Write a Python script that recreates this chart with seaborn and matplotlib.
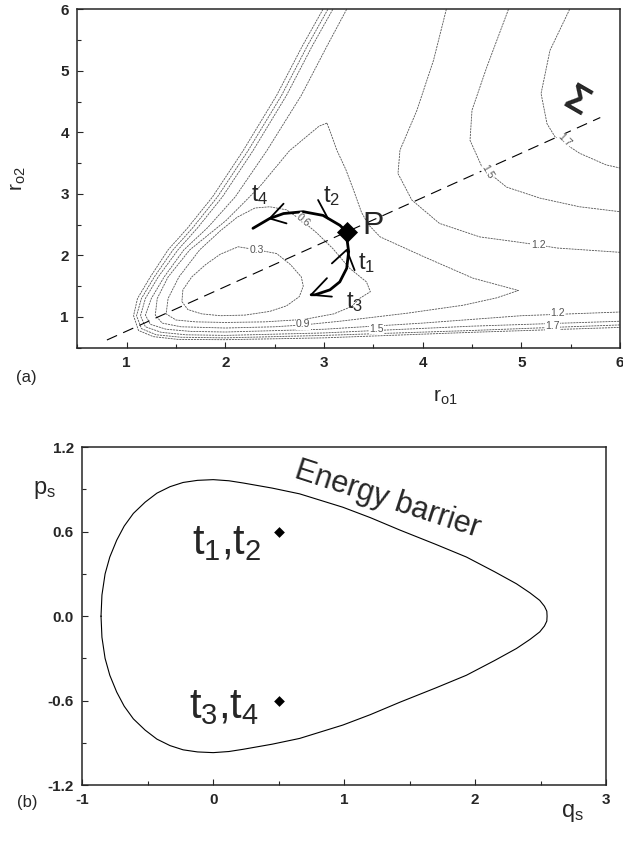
import matplotlib
matplotlib.use("Agg")
import matplotlib.pyplot as plt
from matplotlib.ticker import FixedLocator, MultipleLocator
import seaborn as sns

sns.set_style("ticks")
plt.rcParams["font.family"] = ["Liberation Sans", "DejaVu Sans"]
plt.rcParams["mathtext.fontset"] = "custom"
plt.rcParams["mathtext.rm"] = "Liberation Sans"
plt.rcParams["mathtext.it"] = "Liberation Sans:italic"
plt.rcParams["mathtext.bf"] = "Liberation Sans:bold"
plt.rcParams["axes.unicode_minus"] = False

### (a) potential energy contours (r_o1, r_o2) ###

# 0.3 contour (inner loop)
c03_x = [2.32, 2.13, 1.95, 1.80, 1.66, 1.57, 1.56, 1.62, 1.76, 1.95, 2.20, 2.45, 2.62, 2.75, 2.79, 2.77, 2.66, 2.52, 2.32]
c03_y = [2.09, 2.14, 2.02, 1.85, 1.65, 1.44, 1.25, 1.12, 1.05, 1.02, 1.03, 1.09, 1.18, 1.33, 1.50, 1.65, 1.85, 2.03, 2.09]
# 0.6 contour
c06_x = [3.36, 3.47, 3.43, 3.26, 3.09, 2.93, 2.79, 2.62, 2.45, 2.30, 2.12, 1.95, 1.74, 1.53, 1.42, 1.40, 1.50, 1.70, 2.00, 2.40, 2.80, 3.10, 3.28, 3.36]
c06_y = [1.30, 1.41, 1.57, 1.79, 2.11, 2.36, 2.55, 2.74, 2.79, 2.77, 2.62, 2.40, 2.09, 1.65, 1.30, 1.05, 0.95, 0.92, 0.91, 0.92, 0.96, 1.05, 1.17, 1.30]
# 0.9 contour (peak towards top, tip towards right)
c09_x = [3.03, 2.95, 2.65, 2.35, 2.01, 1.64, 1.42, 1.31, 1.29, 1.36, 1.55, 2.00, 2.50, 2.79, 3.16, 3.84, 4.41, 4.75, 4.97,
         4.51, 4.01, 3.57, 3.45, 3.38, 3.30, 3.22, 3.13, 3.07, 3.03]
c09_y = [4.15, 4.10, 3.70, 3.12, 2.57, 2.09, 1.65, 1.30, 1.03, 0.90, 0.84, 0.82, 0.84, 0.87, 0.93, 1.06, 1.19, 1.31, 1.43,
         1.63, 1.98, 2.30, 2.50, 2.70, 3.06, 3.40, 3.71, 3.98, 4.15]
# repulsive wall contours (1.2, 1.5, 1.7 and the outermost one)
w12_x = [3.23, 3.03, 2.77, 2.42, 2.10, 1.82, 1.58, 1.38, 1.25, 1.19, 1.24, 1.40, 1.65, 2.00, 3.00, 4.00, 5.00, 6.00]
w12_y = [6.00, 5.40, 4.60, 3.70, 2.95, 2.45, 2.09, 1.65, 1.30, 1.03, 0.88, 0.80, 0.765, 0.755, 0.80, 0.90, 1.02, 1.08]
w15_x = [3.09, 2.88, 2.62, 2.28, 1.97, 1.72, 1.52, 1.32, 1.19, 1.14, 1.19, 1.35, 1.60, 2.00, 3.00, 3.53, 4.50, 6.00]
w15_y = [6.00, 5.40, 4.60, 3.70, 2.95, 2.45, 2.09, 1.65, 1.30, 1.02, 0.84, 0.75, 0.71, 0.70, 0.74, 0.78, 0.85, 0.93]
w17_x = [3.04, 2.83, 2.57, 2.23, 1.92, 1.67, 1.47, 1.28, 1.15, 1.10, 1.15, 1.30, 1.55, 2.00, 3.00, 4.50, 5.32, 6.00]
w17_y = [6.00, 5.40, 4.60, 3.70, 2.95, 2.45, 2.09, 1.65, 1.30, 1.02, 0.81, 0.71, 0.67, 0.66, 0.70, 0.78, 0.83, 0.87]
w20_x = [2.99, 2.78, 2.52, 2.18, 1.87, 1.62, 1.42, 1.24, 1.11, 1.07, 1.12, 1.27, 1.52, 2.00, 3.00, 4.50, 6.00]
w20_y = [6.00, 5.40, 4.60, 3.70, 2.95, 2.45, 2.09, 1.65, 1.30, 1.02, 0.78, 0.68, 0.635, 0.63, 0.66, 0.75, 0.83]
# upper right plateau contours
u12_x = [4.24, 4.11, 3.94, 3.77, 3.75, 3.89, 4.17, 4.58, 4.95, 5.17, 5.36, 6.00]
u12_y = [6.00, 5.17, 4.35, 3.71, 3.33, 2.90, 2.52, 2.30, 2.22, 2.17, 2.12, 2.05]
u15_x = [4.87, 4.65, 4.50, 4.48, 4.60, 4.68, 4.85, 5.19, 5.59, 6.00]
u15_y = [6.00, 5.06, 4.36, 3.87, 3.44, 3.33, 3.11, 2.93, 2.79, 2.71]
u17_x = [5.49, 5.29, 5.20, 5.26, 5.34, 5.42, 5.59, 5.86, 6.00]
u17_y = [6.00, 5.33, 4.63, 4.14, 3.93, 3.84, 3.66, 3.47, 3.42]

contour_x = [c03_x, c06_x, c09_x, w12_x, w15_x, w17_x, w20_x, u12_x, u15_x, u17_x]
contour_y = [c03_y, c06_y, c09_y, w12_y, w15_y, w17_y, w20_y, u12_y, u15_y, u17_y]

label_text = ["0.3", "0.6", "0.9", "1.2", "1.5", "1.7", "1.2", "1.5", "1.7"]
label_x = [2.32, 2.79, 2.79, 5.17, 4.66, 5.44, 5.37, 3.53, 5.32]
label_y = [2.08, 2.57, 0.88, 2.17, 3.36, 3.87, 1.07, 0.81, 0.85]
label_rot = [0, -40, 0, 0, -60, -45, 0, 0, 0]

# dividing surface Sigma and the saddle point P
sigma_x = [0.80, 5.80]
sigma_y = [0.625, 4.24]
p_x = [3.23]
p_y = [2.38]

# trajectory arcs through P and arrow marks
arc_up_x = [3.20, 3.16, 2.99, 2.79, 2.59, 2.45, 2.28]
arc_up_y = [2.43, 2.49, 2.65, 2.71, 2.68, 2.60, 2.44]
arc_dn_x = [3.23, 3.25, 3.23, 3.16, 3.06, 2.91, 2.87]
arc_dn_y = [2.30, 2.06, 1.79, 1.57, 1.44, 1.36, 1.36]
mark_x = [[2.59, 2.45, 2.62], [2.94, 3.04], [3.08, 3.23, 3.31], [3.03, 2.87, 3.08]]
mark_y = [[2.84, 2.60, 2.52], [2.90, 2.60], [1.87, 2.09, 1.76], [1.63, 1.36, 1.33]]

time_labels = [r"t$_4$", r"t$_2$", r"t$_1$", r"t$_3$"]
time_x = [2.35, 3.08, 3.43, 3.31]
time_y = [2.98, 2.96, 1.88, 1.24]

### (b) energy barrier in the (q_s, p_s) plane ###
barrier_q = [-0.857, -0.85, -0.826, -0.79, -0.737, -0.68, -0.61, -0.52, -0.43, -0.33, -0.23, -0.12, 0.0, 0.12, 0.23,
             0.45, 0.66, 0.99, 1.2, 1.425, 1.7, 1.934, 2.15, 2.316, 2.42, 2.494, 2.53, 2.548, 2.55,
             2.548, 2.53, 2.494, 2.42, 2.316, 2.15, 1.934, 1.7, 1.425, 1.2, 0.99, 0.66, 0.45, 0.23, 0.12, 0.0,
             -0.12, -0.23, -0.33, -0.43, -0.52, -0.61, -0.68, -0.737, -0.79, -0.826, -0.85, -0.857]
barrier_p = [0.0, 0.15, 0.30, 0.42, 0.54, 0.64, 0.73, 0.81, 0.874, 0.92, 0.95, 0.965, 0.97, 0.962, 0.946,
             0.91, 0.869, 0.774, 0.70, 0.612, 0.51, 0.42, 0.315, 0.23, 0.165, 0.112, 0.07, 0.035, 0.0,
             -0.035, -0.07, -0.112, -0.165, -0.23, -0.315, -0.42, -0.51, -0.612, -0.70, -0.774, -0.869, -0.91, -0.946, -0.962, -0.97,
             -0.965, -0.95, -0.92, -0.874, -0.81, -0.73, -0.64, -0.54, -0.42, -0.30, -0.15, 0.0]
state_q = [0.5, 0.5]
state_p = [0.6, -0.6]

a_ticks = [1, 2, 3, 4, 5, 6]
b_xticks = [-1, 0, 1, 2, 3]
b_yticks = [-1.2, -0.6, 0.0, 0.6, 1.2]
b_yticklabels = ["-1.2", "-0.6", "0.0", "0.6", "1.2"]

fig = plt.figure(figsize=(6.23, 8.46), dpi=100)
ax_a = fig.add_axes([0.1241, 0.5890, 0.8711, 0.4001])
ax_b = fig.add_axes([0.1321, 0.0721, 0.8406, 0.3992])

contour_style = dict(color="#555555", linewidth=0.6, linestyle=(0, (2.5, 1)))
for xs, ys in zip(contour_x, contour_y):
    sns.lineplot(x=xs, y=ys, sort=False, estimator=None, ax=ax_a, **contour_style)

for s, x, y, r in zip(label_text, label_x, label_y, label_rot):
    ax_a.text(x, y, s, fontsize=7.5, color="#555555", rotation=r, ha="center", va="center",
              zorder=4, bbox=dict(fc="white", ec="none", pad=0.2))

sns.lineplot(x=sigma_x, y=sigma_y, sort=False, estimator=None, ax=ax_a,
             color="black", linewidth=0.8, linestyle=(0, (10, 6)))

sns.lineplot(x=arc_up_x, y=arc_up_y, sort=False, estimator=None, ax=ax_a, color="black", linewidth=2.0)
sns.lineplot(x=arc_dn_x, y=arc_dn_y, sort=False, estimator=None, ax=ax_a, color="black", linewidth=2.0)
for xs, ys in zip(mark_x, mark_y):
    sns.lineplot(x=xs, y=ys, sort=False, estimator=None, ax=ax_a, color="black", linewidth=1.3)

sns.scatterplot(x=p_x, y=p_y, marker="D", s=115, color="black", linewidth=0, ax=ax_a, zorder=6)
ax_a.text(3.50, 2.47, "P", fontsize=23, ha="center", va="center")
for s, x, y in zip(time_labels, time_x, time_y):
    ax_a.text(x, y, s, fontsize=17, ha="center", va="center")
ax_a.text(5.56, 4.49, "Σ", fontsize=27, fontweight="bold", rotation=-30, ha="center", va="center")

ax_a.set_xlim(0.5, 6)
ax_a.set_ylim(0.5, 6)
ax_a.xaxis.set_major_locator(FixedLocator(a_ticks))
ax_a.yaxis.set_major_locator(FixedLocator(a_ticks))
ax_a.xaxis.set_minor_locator(MultipleLocator(0.5))
ax_a.yaxis.set_minor_locator(MultipleLocator(0.5))
ax_a.set_xlabel("")
ax_a.set_ylabel("")
ax_a.text(0.679, -0.146, r"r$_{\mathrm{o1}}$", transform=ax_a.transAxes, fontsize=15, ha="center", va="center")
ax_a.text(-0.108, 0.50, r"r$_{\mathrm{o2}}$", transform=ax_a.transAxes, fontsize=15, ha="center", va="center",
          rotation=90)

### (b) ###
sns.lineplot(x=barrier_q, y=barrier_p, sort=False, estimator=None, ax=ax_b, color="black", linewidth=0.8)
sns.scatterplot(x=state_q, y=state_p, marker="D", s=30, color="black", linewidth=0, ax=ax_b, zorder=5)
ax_b.text(0.37, 0.52, r"t$_1$,t$_2$", fontsize=30, ha="right", va="center")
ax_b.text(0.35, -0.645, r"t$_3$,t$_4$", fontsize=30, ha="right", va="center")
ax_b.text(1.33, 0.83, "Energy barrier", fontsize=22, rotation=-18, ha="center", va="center",
          rotation_mode="anchor")

ax_b.set_xlim(-1, 3)
ax_b.set_ylim(-1.2, 1.2)
ax_b.xaxis.set_major_locator(FixedLocator(b_xticks))
ax_b.set_yticks(b_yticks, b_yticklabels)
ax_b.xaxis.set_minor_locator(MultipleLocator(0.5))
ax_b.yaxis.set_minor_locator(MultipleLocator(0.3))
ax_b.set_xlabel("")
ax_b.set_ylabel("")
ax_b.text(0.936, -0.083, r"q$_{\mathrm{s}}$", transform=ax_b.transAxes, fontsize=17, ha="center", va="center")
ax_b.text(-0.073, 0.873, r"p$_{\mathrm{s}}$", transform=ax_b.transAxes, fontsize=17, ha="center", va="center")

for ax in (ax_a, ax_b):
    for side in ["top", "right", "bottom", "left"]:
        ax.spines[side].set_visible(True)
        ax.spines[side].set_linewidth(1.1)
    ax.tick_params(which="both", direction="in", top=False, right=False, width=0.8)
    ax.tick_params(which="major", length=4.5, pad=6, labelsize=11)
    ax.tick_params(which="minor", length=2.8)
    for lab in ax.get_xticklabels() + ax.get_yticklabels():
        lab.set_fontweight("bold")

fig.text(0.043, 0.554, "(a)", fontsize=12, ha="center", va="center")
fig.text(0.043, 0.052, "(b)", fontsize=12, ha="center", va="center")

fig.savefig("out.png", dpi=100)
